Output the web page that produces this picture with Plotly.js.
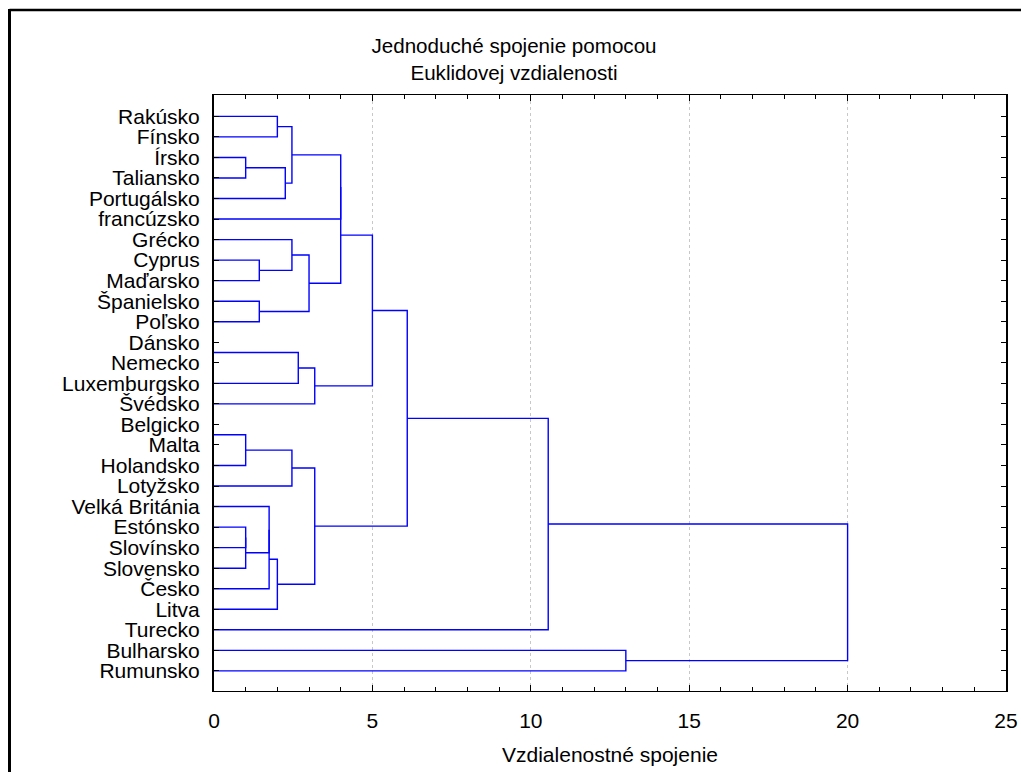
<!DOCTYPE html>
<html>
<head>
<meta charset="utf-8">
<script src="https://cdn.plot.ly/plotly-3.0.1.min.js"></script>
<style>html,body{margin:0;padding:0;background:#fff}#chart{width:1021px;height:772px}</style>
</head>
<body>
<div id="chart"></div>
<script>
// Leaves (top to bottom)
const leaves = ["Rakúsko","Fínsko","Írsko","Taliansko","Portugálsko","francúzsko","Grécko","Cyprus","Maďarsko","Španielsko","Poľsko","Dánsko","Nemecko","Luxemburgsko","Švédsko","Belgicko","Malta","Holandsko","Lotyžsko","Velká Británia","Estónsko","Slovínsko","Slovensko","Česko","Litva","Turecko","Bulharsko","Rumunsko"];
// Merges: child A, child B (index < 28 = leaf, else 28 + merge number), linkage distance
const mergeA = [11, 15, 2, 29, 20, 32, 7, 9, 19, 36, 0, 37, 30, 38, 6, 31, 28, 42, 44, 43, 41, 48, 49, 50, 51, 26, 52];
const mergeB = [12, 16, 3, 17, 21, 22, 8, 10, 33, 23, 1, 24, 4, 40, 34, 18, 13, 35, 14, 39, 5, 45, 46, 47, 25, 27, 53];
const mergeH = [0, 0, 1.0, 1.0, 1.0, 1.0, 1.43, 1.43, 1.74, 1.74, 2.0, 2.0, 2.25, 2.46, 2.46, 2.46, 2.66, 3.0, 3.18, 3.18, 4.0, 4.0, 5.0, 6.1, 10.55, 13.0, 20.0];
const xTicks = [0, 5, 10, 15, 20, 25];

const n = leaves.length;
const nodeY = leaves.map((_, i) => i);
const nodeH = leaves.map(() => 0);
const xs = [], ys = [];
for (let k = 0; k < mergeA.length; k++) {
  const a = mergeA[k], b = mergeB[k], h = mergeH[k];
  if (h > 0) {
    xs.push(nodeH[a], h, h, nodeH[b], null);
    ys.push(nodeY[a], nodeY[a], nodeY[b], nodeY[b], null);
  }
  nodeY.push((nodeY[a] + nodeY[b]) / 2);
  nodeH.push(h);
}

const W = 1021, H = 772, L = 214, R = 15, T = 95, B = 81;
const pw = W - L - R, ph = H - T - B;
const px = v => (v - L) / pw;
const py = v => (H - B - v) / ph;

const font = {family: "Liberation Sans, Arial, sans-serif", color: "#000"};

const data = [{
  type: "scatter", mode: "lines", x: xs, y: ys,
  line: {color: "#0000FF", width: 1.4},
  hoverinfo: "skip", showlegend: false
}];

const layout = {
  width: W, height: H,
  margin: {l: L, r: R, t: T, b: B, pad: 0},
  paper_bgcolor: "#fff", plot_bgcolor: "#fff",
  font: Object.assign({size: 21}, font),
  title: {
    text: "Jednoduché spojenie pomocou<br>Euklidovej vzdialenosti",
    font: Object.assign({size: 20.6}, font),
    xref: "container", x: 514 / W, xanchor: "center",
    yref: "container", y: 1 - 53 / H, yanchor: "top"
  },
  xaxis: {
    range: [0, 25], tickvals: xTicks, ticktext: xTicks.map(String),
    ticks: "inside", ticklen: 6, tickcolor: "#000", tickwidth: 1,
    minor: {dtick: 1, ticks: "inside", ticklen: 4, tickcolor: "#000", showgrid: false},
    showline: true, linecolor: "#000", linewidth: 1, mirror: "ticks",
    showgrid: true, gridcolor: "#c8c8c8", griddash: "dot", gridwidth: 1,
    zeroline: false, ticklabelstandoff: 11, layer: "above traces",
    tickfont: Object.assign({size: 21}, font),
    title: {text: "Vzdialenostné spojenie", font: Object.assign({size: 21}, font), standoff: 16}
  },
  yaxis: {
    range: [27.98, -1.04], tickvals: leaves.map((_, i) => i), ticktext: leaves,
    ticks: "inside", ticklen: 5, tickcolor: "#000", tickwidth: 1,
    showline: true, linecolor: "#000", linewidth: 2, mirror: "ticks",
    showgrid: false, zeroline: false, ticklabelstandoff: 8, layer: "above traces",
    tickfont: Object.assign({size: 21}, font)
  },
  shapes: [
    {type: "line", xref: "paper", yref: "paper", x0: px(9.5), x1: px(1030), y0: py(10), y1: py(10), line: {color: "#000", width: 2.5}},
    {type: "line", xref: "paper", yref: "paper", x0: px(9.5), x1: px(9.5), y0: py(9), y1: py(790), line: {color: "#000", width: 3}}
  ]
};

Plotly.newPlot("chart", data, layout, {displayModeBar: false, staticPlot: true});
</script>
</body>
</html>
